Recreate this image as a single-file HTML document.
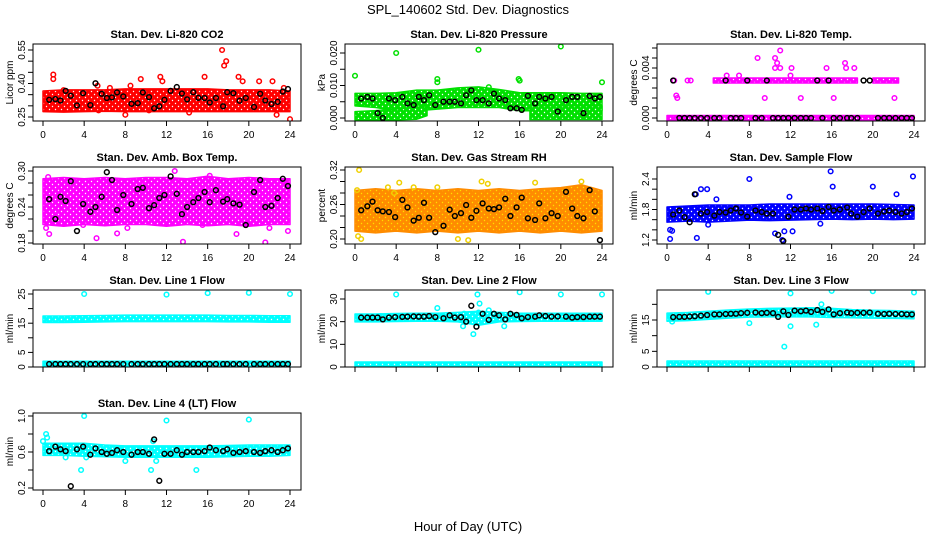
<!DOCTYPE html>
<html><head><meta charset="utf-8">
<style>
html,body{margin:0;padding:0;background:#fff;}
svg{display:block;font-family:"Liberation Sans",Arial,sans-serif;}
</style></head>
<body>
<svg id="chart" width="936" height="540" viewBox="0 0 936 540" xmlns="http://www.w3.org/2000/svg">
<defs id="defs"></defs>
<text x="468" y="14" text-anchor="middle" font-size="13">SPL_140602  Std. Dev. Diagnostics</text>
<text x="468" y="531" text-anchor="middle" font-size="13">Hour of Day (UTC)</text>
</svg>
<script>
// ---- shared data ----
const blackHours = [0.6,1.2,1.7,2.2,2.7,3.3,3.9,4.6,5.1,5.7,6.2,6.7,7.2,7.8,8.6,9.2,9.7,10.3,10.8,11.3,11.8,12.4,13.0,13.5,14.0,14.6,15.1,15.7,16.2,16.8,17.5,17.9,18.5,19.1,19.7,20.5,21.1,21.6,22.2,22.8,23.3,23.8];
const bandHours = [0,2,4,6,8,10,12,14,16,18,20,22,24];
const xTicks = [0,4,8,12,16,20,24];

// Panel 1 CO2
const co2BandLo = [0.285,0.283,0.285,0.287,0.285,0.285,0.285,0.285,0.285,0.285,0.285,0.285,0.285];
const co2BandHi = [0.355,0.36,0.36,0.36,0.365,0.365,0.365,0.365,0.365,0.36,0.36,0.36,0.355];
const co2OutX = [1,1,2,5.3,6.5,8,8.5,9.5,11.4,11.6,15.7,17.4,17.8,17.6,19,19.4,21,22.3,22.7,23.4,24,14.2,10.3,5.4];
const co2OutY = [0.42,0.44,0.37,0.39,0.38,0.26,0.39,0.42,0.43,0.41,0.43,0.55,0.50,0.48,0.43,0.41,0.41,0.41,0.26,0.38,0.24,0.27,0.28,0.28];
const co2Black = [0.327,0.33,0.324,0.367,0.345,0.302,0.357,0.303,0.401,0.354,0.335,0.338,0.36,0.342,0.309,0.312,0.36,0.339,0.289,0.298,0.327,0.367,0.384,0.355,0.329,0.361,0.336,0.335,0.315,0.335,0.298,0.361,0.357,0.323,0.335,0.295,0.354,0.324,0.308,0.318,0.364,0.375];

// Panel 2 Pressure
const presBandLo = [0.0045,0.004,0.003,0.003,0.0035,0.004,0.004,0.004,0.003,0.003,0.003,0.003,0.003];
const presBandHi = [0.0068,0.0068,0.007,0.0078,0.0078,0.0085,0.0088,0.008,0.007,0.007,0.007,0.0068,0.0068];
const presLowHours = [0,2,4,6,7];
const presLowLo = [0.0002,0.0002,0.0002,0.0004,0.0015];
const presLowHi = [0.0012,0.0015,0.002,0.0025,0.003];
const presLateHours = [17,19,21,23,24];
const presLateLo = [0.0003,0.0003,0.0003,0.0003,0.0003];
const presLateHi = [0.003,0.003,0.003,0.003,0.003];
const presOutX = [0,4,8,8,12,15.9,16,20,24,13];
const presOutY = [0.013,0.020,0.012,0.011,0.021,0.012,0.0115,0.022,0.011,0.0095];
const presBlack = [0.006,0.0065,0.006,0.0015,0.0,0.006,0.0055,0.0065,0.0045,0.004,0.0065,0.0055,0.007,0.004,0.005,0.005,0.005,0.0045,0.007,0.0085,0.0055,0.0055,0.0045,0.0075,0.006,0.0055,0.003,0.003,0.0025,0.0068,0.0045,0.0065,0.006,0.0065,0.002,0.0055,0.0065,0.0065,0.0015,0.0068,0.006,0.0065];

// Panel 3 Temp
const tmpZeroHours = [0,24];
const tmpZeroVal = [0,0];
const tmpMidHours = [4.5,18.5];
const tmpMidVal = [0.003,0.003];
const tmpMid2Hours = [20,22.5];
const tmpMid2Val = [0.003,0.003];
const tmpOutX = [1,0.9,2,2.3,5.8,7,8.8,9.5,10.5,10.7,10.5,11,11,12,12.1,13,15.5,16.2,17.3,17.4,18.2,22.1,0.7];
const tmpOutY = [0.0016,0.0018,0.003,0.003,0.0034,0.0034,0.0048,0.0016,0.0048,0.0044,0.004,0.0054,0.004,0.0034,0.004,0.0016,0.004,0.0016,0.0044,0.004,0.004,0.0016,0.003];
const tmpBlack = [0.003,0,0,0,0,0,0,0,0,0.003,0,0,0,0.003,0,0,0.003,0,0,0,0,0,0,0,0,0.003,0,0.003,0,0,0,0,0,0.003,0.003,0,0,0,0,0,0,0];

// Panel 4 Amb box temp
const ambBandLo = [0.215,0.212,0.215,0.213,0.215,0.215,0.212,0.215,0.213,0.215,0.212,0.215,0.215];
const ambBandHi = [0.283,0.285,0.283,0.285,0.283,0.285,0.285,0.283,0.287,0.283,0.285,0.283,0.283];
const ambOutX = [0.3,0.5,0.6,5.2,7.2,13.6,21.6,18.8,12.8,16.2,3.9,8.2,22,15.5,23.8];
const ambOutY = [0.205,0.29,0.195,0.188,0.196,0.182,0.181,0.195,0.30,0.292,0.21,0.205,0.205,0.21,0.20];
const ambBlack = [0.253,0.22,0.257,0.25,0.283,0.20,0.245,0.232,0.24,0.257,0.298,0.285,0.235,0.26,0.245,0.27,0.272,0.238,0.243,0.255,0.26,0.291,0.262,0.228,0.24,0.248,0.255,0.265,0.248,0.268,0.249,0.253,0.246,0.244,0.21,0.265,0.285,0.24,0.242,0.255,0.287,0.275];

// Panel 5 RH
const rhBandLo = [0.218,0.215,0.218,0.215,0.218,0.215,0.218,0.215,0.218,0.215,0.218,0.215,0.218];
const rhBandHi = [0.28,0.283,0.28,0.283,0.28,0.283,0.28,0.283,0.28,0.283,0.285,0.29,0.28];
const rhOutX = [0.2,0.4,0.3,0.6,3.2,3.8,5.7,8,10,11,12.3,12.9,17.5,22,4.3];
const rhOutY = [0.285,0.32,0.205,0.2,0.29,0.28,0.29,0.29,0.2,0.198,0.3,0.296,0.298,0.30,0.298];
const rhBlack = [0.25,0.257,0.265,0.25,0.248,0.247,0.238,0.268,0.255,0.232,0.237,0.263,0.237,0.212,0.223,0.251,0.24,0.245,0.259,0.237,0.249,0.262,0.253,0.252,0.255,0.27,0.24,0.255,0.272,0.236,0.233,0.262,0.236,0.245,0.24,0.282,0.253,0.24,0.236,0.285,0.248,0.198];

// Panel 6 Sample flow
const sfBandLo = [1.6,1.62,1.6,1.62,1.64,1.63,1.64,1.65,1.66,1.65,1.66,1.65,1.66];
const sfBandHi = [1.8,1.82,1.84,1.84,1.84,1.86,1.86,1.86,1.86,1.86,1.86,1.85,1.84];
const sfOutX = [0.3,0.5,0.3,3.3,3.9,2.9,4.8,8,4,10.5,11.4,12.2,11.2,11.9,15.9,16.1,20,22.3,23.9,14.9,2.8];
const sfOutY = [1.40,1.38,1.22,2.2,2.2,1.24,2.0,2.4,1.5,1.33,1.37,1.37,1.2,2.05,2.55,2.25,2.25,2.1,2.45,1.52,2.1];
const sfBlack = [1.7,1.78,1.65,1.55,2.1,1.72,1.75,1.68,1.75,1.74,1.78,1.82,1.74,1.66,1.78,1.75,1.72,1.72,1.3,1.18,1.66,1.8,1.8,1.82,1.8,1.82,1.77,1.85,1.78,1.8,1.84,1.72,1.66,1.75,1.82,1.72,1.76,1.78,1.75,1.72,1.75,1.82];

// Panel 7 Line 1
const l1BandLo = [16.1,16.1,16.2,16.3,16.4,16.4,16.4,16.4,16.4,16.3,16.3,16.2,16.2];
const l1BandHi = [16.6,16.6,16.7,16.8,16.9,16.9,16.9,16.9,16.9,16.8,16.8,16.7,16.7];
const lowBandLo = [0.8,0.8,0.8,0.8,0.8,0.8,0.8,0.8,0.8,0.8,0.8,0.8,0.8];
const lowBandHi = [1.1,1.1,1.1,1.1,1.1,1.1,1.1,1.1,1.1,1.1,1.1,1.1,1.1];
const l1OutX = [4,12,16,20,24];
const l1OutY = [25,24.8,25.3,25.4,25];
const l1Black = [1,1,1,1,1,1,1,1,1,1,1,1,1,1,1,1,1,1,1,1,1,1,1,1,1,1,1,1,1,1,1,1,1,1,1,1,1,1,1,1,1,1];

// Panel 8 Line 2
const l2BandLo = [21,21,21.2,21.3,21.3,21,19.5,21,21.2,21.3,21.3,21.3,21.3];
const l2BandHi = [22.3,22.3,22.5,22.6,22.6,23,23.5,23,22.6,22.6,22.6,22.6,22.6];
const l2OutX = [4,8,11.9,12.1,16,20,24,10.5,11.5,14.5,12,10.6,13];
const l2OutY = [32,26,32,28,33,32,32,18,14.5,18,24,23.5,25];
const l2Black = [21.8,21.8,21.8,21.8,21,21.8,22,22.1,22.2,22.3,22.2,22.2,22.5,22,21.5,22.8,21.8,22,20,27,17.8,23.5,20.8,23.5,22.8,21,23.5,23,21.5,22,22.2,22.8,22.5,22.2,22.3,22.2,21.8,22,22,22.2,22.2,22.2];

// Panel 9 Line 3
const l3BandLo = [15.4,15.6,16,16.4,16.7,16.8,16.8,16.8,16.6,16.5,16.4,16.3,16.2];
const l3BandHi = [16.4,16.6,17,17.4,17.7,17.9,18,18.1,17.9,17.5,17.3,17.2,17];
const l3OutX = [4,12,16,20,24,8,12,11.4,14.5,0.5,15];
const l3OutY = [24,23.5,24.3,24.2,23.8,14,13,6.5,13.5,14.5,20];
const l3Black = [15.9,16,16,16.1,16.2,16.4,16.6,16.8,16.8,16.9,17,17,17.2,17.3,17.4,17.2,17.3,17.2,16,17.8,16.6,18,17.8,18,17.6,18.2,17.6,18.4,16.8,17.2,17.4,17.2,17.3,17.3,17.4,17,16.9,17,16.9,16.9,16.8,16.8];

// Panel 10 Line 4
const l4BandLo = [0.59,0.59,0.58,0.575,0.57,0.57,0.57,0.57,0.57,0.575,0.58,0.58,0.59];
const l4BandHi = [0.67,0.67,0.67,0.65,0.64,0.64,0.64,0.64,0.64,0.645,0.65,0.65,0.65];
const l4OutX = [0,0.3,0.4,4,3.7,4.2,2.2,10.5,11,10.7,12,14.9,20,8];
const l4OutY = [0.72,0.80,0.76,1.0,0.40,0.54,0.54,0.40,0.50,0.72,0.95,0.40,0.96,0.5];
const l4Black = [0.61,0.66,0.63,0.61,0.22,0.63,0.66,0.57,0.64,0.6,0.58,0.59,0.62,0.6,0.57,0.6,0.6,0.58,0.74,0.28,0.58,0.58,0.62,0.57,0.6,0.6,0.6,0.61,0.65,0.62,0.61,0.63,0.59,0.6,0.61,0.6,0.59,0.61,0.62,0.6,0.62,0.64];

// ---- layout (positions, not data) ----
const colLeft = [33,345,657], rowTop = [44,167,290,413], boxW = 268, boxH = 77;
const svg = document.getElementById('chart');
const defs = document.getElementById('defs');
const NS = 'http://www.w3.org/2000/svg';
function mk(tag, attrs, parent){ const e=document.createElementNS(NS,tag); for(const k in attrs) e.setAttribute(k,attrs[k]); (parent||svg).appendChild(e); return e; }

// speckle texture patterns
const patMade = {};
function pattern(color, dot){
  const id = 'pat' + color.replace('#','') + (dot||'').replace('#','');
  if(patMade[id]) return id;
  patMade[id]=1;
  const p = mk('pattern',{id:id,width:6,height:6,patternUnits:'userSpaceOnUse'},defs);
  mk('rect',{x:0,y:0,width:6,height:6,fill:color},p);
  mk('circle',{cx:1.5,cy:1.5,r:0.7,fill:dot||'#fff'},p);
  mk('circle',{cx:4.5,cy:4.5,r:0.7,fill:dot||'#fff'},p);
  return id;
}

const panels = [
 {name:'co2',title:'Stan. Dev. Li-820 CO2',ylab:'Licor ppm',col:0,row:0,cal:[0.55,6,0.25,73],ticks:[0.25,0.30,0.35,0.40,0.45,0.50,0.55],labels:['0.25','0.40','0.55'],labelVals:[0.25,0.40,0.55],color:'#ff0000',
  bands:[[bandHours,co2BandLo,co2BandHi]],outX:co2OutX,outY:co2OutY,black:co2Black,xlab:true},
 {name:'pressure',title:'Stan. Dev. Li-820 Pressure',ylab:'kPa',col:1,row:0,cal:[0.02,9,0,74],ticks:[0,0.005,0.01,0.015,0.02],labels:['0.000','0.010','0.020'],labelVals:[0,0.01,0.02],color:'#00e000',
  bands:[[bandHours,presBandLo,presBandHi],[presLowHours,presLowLo,presLowHi],[presLateHours,presLateLo,presLateHi]],outX:presOutX,outY:presOutY,black:presBlack,xlab:true},
 {name:'temp',title:'Stan. Dev. Li-820 Temp.',ylab:'degrees C',col:2,row:0,cal:[0.004,24,0,74],ticks:[0,0.0008,0.0016,0.0024,0.0032,0.004,0.0048,0.0056],labels:['0.000','0.004'],labelVals:[0,0.004],color:'#ff00ff',
  bands:[[tmpZeroHours,tmpZeroVal,tmpZeroVal],[tmpMidHours,tmpMidVal,tmpMidVal],[tmpMid2Hours,tmpMid2Val,tmpMid2Val]],outX:tmpOutX,outY:tmpOutY,black:tmpBlack,xlab:true},
 {name:'amb-box-temp',title:'Stan. Dev. Amb. Box Temp.',ylab:'degrees C',col:0,row:1,cal:[0.30,4,0.18,76],ticks:[0.18,0.20,0.22,0.24,0.26,0.28,0.30],labels:['0.18','0.24','0.30'],labelVals:[0.18,0.24,0.30],color:'#ff00ff',
  bands:[[bandHours,ambBandLo,ambBandHi]],outX:ambOutX,outY:ambOutY,black:ambBlack,xlab:true},
 {name:'gas-stream-rh',title:'Stan. Dev. Gas Stream RH',ylab:'percent',col:1,row:1,cal:[0.32,3,0.20,72],ticks:[0.20,0.22,0.24,0.26,0.28,0.30,0.32],labels:['0.20','0.26','0.32'],labelVals:[0.20,0.26,0.32],color:'#ff8c00',dot:'#ffe000',out:'#f0d000',
  bands:[[bandHours,rhBandLo,rhBandHi]],outX:rhOutX,outY:rhOutY,black:rhBlack,xlab:true},
 {name:'sample-flow',title:'Stan. Dev. Sample Flow',ylab:'ml/min',col:2,row:1,cal:[2.4,12,1.2,73],ticks:[1.2,1.4,1.6,1.8,2.0,2.2,2.4],labels:['1.2','1.8','2.4'],labelVals:[1.2,1.8,2.4],color:'#0000ff',
  bands:[[bandHours,sfBandLo,sfBandHi]],outX:sfOutX,outY:sfOutY,black:sfBlack,xlab:true},
 {name:'line1-flow',title:'Stan. Dev. Line 1 Flow',ylab:'ml/min',col:0,row:2,cal:[25,4,0,77],ticks:[0,5,10,15,20,25],labels:['0','5','15','25'],labelVals:[0,5,15,25],color:'#00ffff',
  bands:[[bandHours,l1BandLo,l1BandHi],[bandHours,lowBandLo,lowBandHi]],outX:l1OutX,outY:l1OutY,black:l1Black,xlab:false},
 {name:'line2-flow',title:'Stan. Dev. Line 2 Flow',ylab:'ml/min',col:1,row:2,cal:[30,9,0,77],ticks:[0,10,20,30],labels:['0','10','20','30'],labelVals:[0,10,20,30],color:'#00ffff',
  bands:[[bandHours,l2BandLo,l2BandHi],[bandHours,lowBandLo,lowBandHi]],outX:l2OutX,outY:l2OutY,black:l2Black,xlab:false},
 {name:'line3-flow',title:'Stan. Dev. Line 3 Flow',ylab:'ml/min',col:2,row:2,cal:[15,30,0,77],ticks:[0,5,10,15,20],labels:['0','5','15'],labelVals:[0,5,15],color:'#00ffff',
  bands:[[bandHours,l3BandLo,l3BandHi],[bandHours,lowBandLo,lowBandHi]],outX:l3OutX,outY:l3OutY,black:l3Black,xlab:false},
 {name:'line4-flow',title:'Stan. Dev. Line 4 (LT) Flow',ylab:'ml/min',col:0,row:3,cal:[1.0,3,0.2,75],ticks:[0.2,0.4,0.6,0.8,1.0],labels:['0.2','0.6','1.0'],labelVals:[0.2,0.6,1.0],color:'#00ffff',
  bands:[[bandHours,l4BandLo,l4BandHi]],outX:l4OutX,outY:l4OutY,black:l4Black,xlab:true}
];

panels.forEach(p=>{
  const L = colLeft[p.col], T = rowTop[p.row];
  const g = mk('g',{});
  
  
  const xs = h => L + 10 + h*(247/24);
  const ys = v => T + p.cal[1] + (v - p.cal[0])*(p.cal[3]-p.cal[1])/(p.cal[2]-p.cal[0]);
  const clip = 'clip-'+p.name;
  const cp = mk('clipPath',{id:clip},g); mk('rect',{x:L,y:T,width:boxW,height:boxH},cp);
  const plot = mk('g',{'clip-path':'url(#'+clip+')'},g);
  const pid = pattern(p.color, p.dot);
  // bands
  p.bands.forEach(b=>{
    const [hs,lo,hi]=b; const n=Math.min(hs.length,lo.length,hi.length);
    let pts=[];
    for(let i=0;i<n;i++) pts.push(xs(hs[i])+','+(ys(hi[i])-2.5));
    for(let i=n-1;i>=0;i--) pts.push(xs(hs[i])+','+(ys(lo[i])+2.5));
    const poly = mk('polygon',{points:pts.join(' '),fill:'url(#'+pid+')',stroke:p.color,'stroke-width':1.5,'stroke-linejoin':'round'},plot);
    
    
  });
  // outliers
  const oc = p.out || p.color;
  for(let i=0;i<Math.min(p.outX.length,p.outY.length);i++){
    const c = mk('circle',{cx:xs(p.outX[i]),cy:ys(p.outY[i]),r:2.3,fill:'none',stroke:oc,'stroke-width':1.5},plot);
    
    
  }
  // black series
  for(let i=0;i<Math.min(blackHours.length,p.black.length);i++){
    const c = mk('circle',{cx:xs(blackHours[i]),cy:ys(p.black[i]),r:2.4,fill:'none',stroke:'#000','stroke-width':1.5},plot);
    
    
  }
  // box
  const box = mk('rect',{x:L,y:T,width:boxW,height:boxH,fill:'none',stroke:'#000','stroke-width':1},g);
  
  
  // title
  const t = mk('text',{x:L+boxW/2,y:T-6,'text-anchor':'middle','font-size':11,'font-weight':'bold'},g);
  t.textContent = p.title;
  
  
  // x axis
  mk('line',{x1:xs(xTicks[0]),x2:xs(xTicks[xTicks.length-1]),y1:T+boxH,y2:T+boxH,stroke:'#000'},g);
  xTicks.forEach(h=>{
    mk('line',{x1:xs(h),x2:xs(h),y1:T+boxH,y2:T+boxH+5,stroke:'#000'},g);
    if(p.xlab){
      const tl = mk('text',{x:xs(h),y:T+boxH+17,'text-anchor':'middle','font-size':10},g);
      tl.textContent = String(h);
      
      
    }
  });
  // y axis
  mk('line',{x1:L,x2:L,y1:ys(p.ticks[0]),y2:ys(p.ticks[p.ticks.length-1]),stroke:'#000'},g);
  p.ticks.forEach(v=>{ mk('line',{x1:L-5,x2:L,y1:ys(v),y2:ys(v),stroke:'#000'},g); });
  p.labelVals.forEach((v,i)=>{
    const yy=ys(v), xx=L-8;
    const tl = mk('text',{x:xx,y:yy,'text-anchor':'middle','font-size':10,transform:'rotate(-90 '+xx+' '+yy+')'},g);
    tl.textContent = p.labels[i];
    
    
  });
  const yl = mk('text',{x:L-20,y:T+boxH/2,'text-anchor':'middle','font-size':10,transform:'rotate(-90 '+(L-20)+' '+(T+boxH/2)+')'},g);
  yl.textContent = p.ylab;
  
  
});
</script>
</body></html>
